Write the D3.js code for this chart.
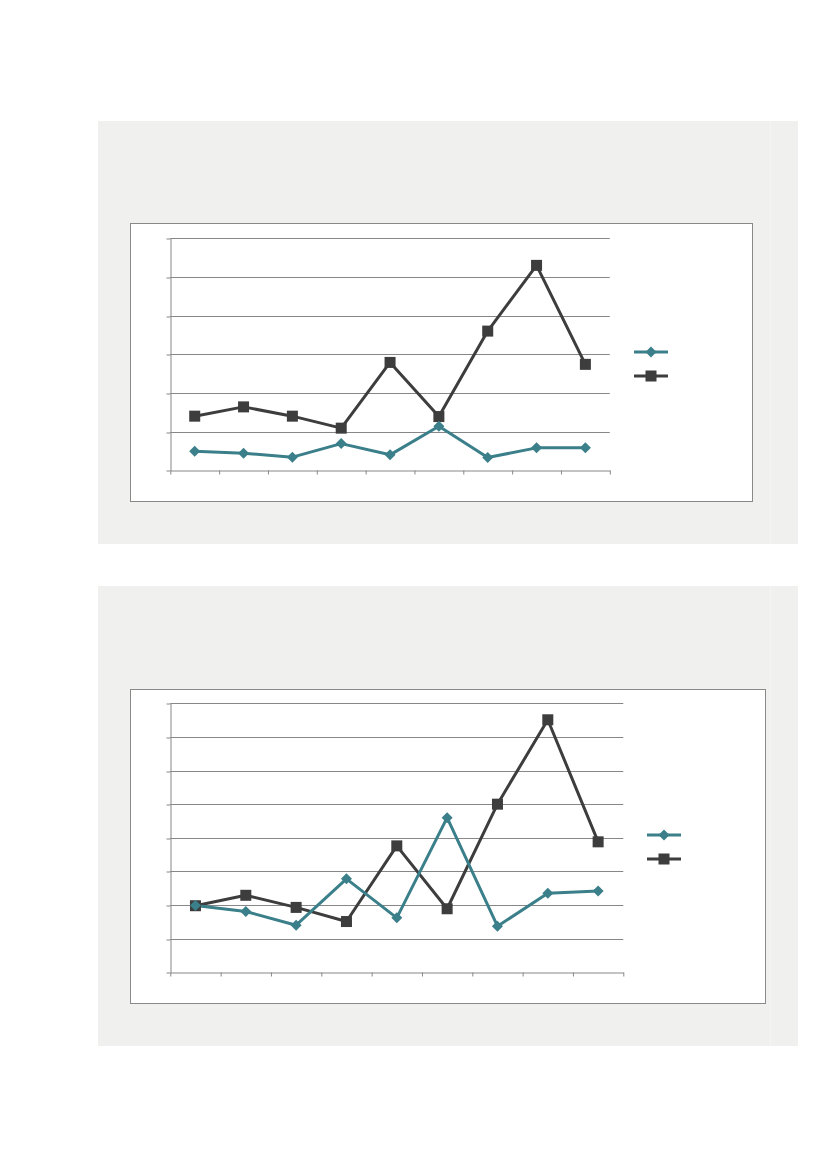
<!DOCTYPE html>
<html>
<head>
<meta charset="utf-8">
<script src="https://cdn.jsdelivr.net/npm/d3@7"></script>
<style>
  html, body { margin: 0; padding: 0; background: #ffffff; }
  svg { display: block; }
</style>
</head>
<body>
<svg id="page" width="827" height="1169"></svg>
<script>
// Categories shared by both charts (nine periods)
const categories = ["1", "2", "3", "4", "5", "6", "7", "8", "9"];

// Chart A series
const chartASeries1 = [4.9, 4.4, 3.4, 6.9, 4.0, 11.4, 3.3, 5.8, 5.8];
const chartASeries2 = [14.0, 16.4, 14.0, 10.9, 27.9, 13.9, 36.0, 53.0, 27.4];
const chartATicks = [0, 10, 20, 30, 40, 50, 60];

// Chart B series
const chartBSeries1 = [19.9, 18.1, 14.0, 27.8, 16.2, 46.0, 13.7, 23.5, 24.2];
const chartBSeries2 = [19.8, 22.9, 19.3, 15.1, 37.6, 18.9, 50.0, 75.1, 38.8];
const chartBTicks = [0, 10, 20, 30, 40, 50, 60, 70, 80];

const TEAL = "#3a7f89";
const DARK = "#3d3d3d";
const GRID = "#878787";

const svg = d3.select("#page");

function drawPanel(cfg) {
  const g = svg.append("g");

  // shaded panel
  g.append("rect")
    .attr("x", cfg.panel[0]).attr("y", cfg.panel[1])
    .attr("width", cfg.panel[2]).attr("height", cfg.panel[3])
    .attr("fill", "#f0f0ee");
  g.append("line")
    .attr("x1", 770.5).attr("x2", 770.5)
    .attr("y1", cfg.panel[1]).attr("y2", cfg.panel[1] + cfg.panel[3])
    .attr("stroke", "#f5f5f3").attr("stroke-width", 1);

  // chart box
  g.append("rect")
    .attr("x", cfg.box[0] + 0.5).attr("y", cfg.box[1] + 0.5)
    .attr("width", cfg.box[2]).attr("height", cfg.box[3])
    .attr("fill", "#ffffff").attr("stroke", "#898989").attr("stroke-width", 1);

  const [x0, y0, x1, y1] = cfg.plot;
  const yScale = d3.scaleLinear()
    .domain([0, d3.max(cfg.ticks)])
    .range([y1, y0]);
  const xBand = d3.scaleBand().domain(cfg.categories).range([x0, x1]).padding(0);
  const xEdge = d3.scaleLinear().domain([0, cfg.categories.length]).range([x0, x1]);

  // horizontal gridlines
  g.append("g").selectAll("line")
    .data(cfg.ticks.filter(t => t > 0))
    .join("line")
    .attr("x1", x0).attr("x2", x1)
    .attr("y1", d => Math.round(yScale(d)) + 0.5)
    .attr("y2", d => Math.round(yScale(d)) + 0.5)
    .attr("stroke", GRID).attr("stroke-width", 1);

  // value axis (ticks only, no labels)
  const yAxis = g.append("g")
    .attr("transform", `translate(${Math.round(x0) + 0.5},0)`)
    .call(d3.axisLeft(yScale).tickValues(cfg.ticks).tickSize(4).tickSizeOuter(0).tickFormat(""));
  yAxis.selectAll("path, line").attr("stroke", GRID);
  yAxis.selectAll(".tick line").attr("transform", d => `translate(0,${Math.round(yScale(d)) + 0.5 - yScale(d)})`);

  // category axis with ticks between categories
  const xAxis = g.append("g")
    .attr("transform", `translate(0,${Math.round(y1) + 0.5})`)
    .call(d3.axisBottom(xEdge).tickValues(d3.range(cfg.categories.length + 1)).tickSize(4).tickSizeOuter(0).tickFormat(""));
  xAxis.selectAll("path, line").attr("stroke", GRID);

  const cx = (d, i) => xBand(cfg.categories[i]) + xBand.bandwidth() / 2;
  const line = d3.line().x((d, i) => cx(d, i)).y(d => yScale(d));

  // series 2 (squares)
  g.append("path").datum(cfg.s2)
    .attr("d", line).attr("fill", "none")
    .attr("stroke", DARK).attr("stroke-width", 3).attr("stroke-linejoin", "round");
  // series 1 (diamonds)
  g.append("path").datum(cfg.s1)
    .attr("d", line).attr("fill", "none")
    .attr("stroke", TEAL).attr("stroke-width", 3).attr("stroke-linejoin", "round");

  const sq = 11;
  g.append("g").selectAll("rect")
    .data(cfg.s2).join("rect")
    .attr("x", (d, i) => cx(d, i) - sq / 2).attr("y", d => yScale(d) - sq / 2)
    .attr("width", sq).attr("height", sq).attr("fill", DARK);

  const diamond = (x, y, r) => `M${x},${y - r}L${x + r},${y}L${x},${y + r}L${x - r},${y}Z`;
  g.append("g").selectAll("path")
    .data(cfg.s1).join("path")
    .attr("d", (d, i) => diamond(cx(d, i), yScale(d), 5.5))
    .attr("fill", TEAL);

  // legend keys
  const [lx, ly] = cfg.legend;
  g.append("line").attr("x1", lx).attr("x2", lx + 34).attr("y1", ly).attr("y2", ly)
    .attr("stroke", TEAL).attr("stroke-width", 3);
  g.append("path").attr("d", diamond(lx + 17, ly, 5.5)).attr("fill", TEAL);
  g.append("line").attr("x1", lx).attr("x2", lx + 34).attr("y1", ly + 24).attr("y2", ly + 24)
    .attr("stroke", DARK).attr("stroke-width", 3);
  g.append("rect").attr("x", lx + 17 - sq / 2).attr("y", ly + 24 - sq / 2)
    .attr("width", sq).attr("height", sq).attr("fill", DARK);
}

drawPanel({
  panel: [98, 121, 700, 423],
  box: [130, 223, 622, 278],
  plot: [170.3, 238.3, 609.8, 470.3],
  ticks: chartATicks,
  categories: categories,
  s1: chartASeries1,
  s2: chartASeries2,
  legend: [634, 352]
});

drawPanel({
  panel: [98, 586, 700, 460],
  box: [130, 689, 635, 314],
  plot: [170.3, 703.3, 623.3, 972.3],
  ticks: chartBTicks,
  categories: categories,
  s1: chartBSeries1,
  s2: chartBSeries2,
  legend: [647, 835]
});
</script>
</body>
</html>
